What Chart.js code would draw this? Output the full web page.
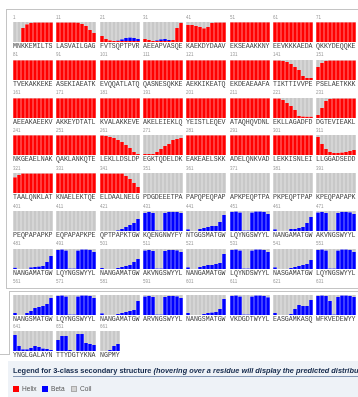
<!DOCTYPE html>
<html>
<head>
<meta charset="utf-8">
<script src="https://cdn.jsdelivr.net/npm/chart.js@4.4.1/dist/chart.umd.min.js"></script>
<style>
  body { margin: 0; width: 358px; height: 397px; overflow: hidden; background: #fff; position: relative; font-family: "Liberation Sans", Arial, sans-serif; }
  .line { position: absolute; background: #c4c4c4; }
  .cell { position: absolute; display: block; }
  .num { position: absolute; font-size: 4.5px; color: #9a9a9a; line-height: 1; will-change: transform; }
  .seq { position: absolute; font-family: "Liberation Mono", monospace; font-size: 6.6px; color: #404040; line-height: 1; white-space: nowrap; will-change: transform; }
  #legend { position: absolute; left: 8px; top: 361px; right: 0; bottom: 0; background: #eef2f7; }
  #legendTitle { position: absolute; left: 13px; top: 367px; font-size: 7.4px; font-weight: bold; color: #13284a; white-space: nowrap; line-height: 1; will-change: transform; }
  #legendRule { position: absolute; left: 13px; right: 0; top: 376px; height: 1px; background: #8497b5; }
  .sw { position: absolute; top: 386px; width: 6px; height: 6px; }
  .lt { position: absolute; top: 386px; font-size: 6.6px; color: #555; line-height: 1; will-change: transform; }
</style>
</head>
<body>
<div id="legend"></div>
<div id="legendTitle">Legend for 3-class secondary structure <i>(hovering over a residue will display the predicted distribution)</i></div>
<div id="legendRule"></div>
<div class="sw" style="left:13px;background:#ff0000"></div><div class="lt" style="left:22px">Helix</div>
<div class="sw" style="left:42px;background:#0000ff"></div><div class="lt" style="left:51px">Beta</div>
<div class="sw" style="left:71px;background:#d4d4d4;box-sizing:border-box;border:1px solid #aaa"></div><div class="lt" style="left:80px">Coil</div>
<script>
// residue number shown above each block of ten
const cellLabels = [1, 11, 21, 31, 41, 51, 61, 71, 81, 91, 101, 111, 121, 131, 141, 151,
  161, 171, 181, 191, 201, 211, 221, 231, 241, 251, 261, 271, 281, 291, 301, 311,
  321, 331, 341, 351, 361, 371, 381, 391, 401, 411, 421, 431, 441, 451, 461, 471,
  481, 491, 501, 511, 521, 531, 541, 551, 561, 571, 581, 591, 601, 611, 621, 631,
  641, 651, 661];

const sequences = ["MNKKEMILTS", "LASVAILGAG", "FVTSQPTPVR", "AEEAPVASQE", "KAEKDYDAAV", "EKSEAAKKNY", "EEVKKKAEDA", "QKKYDEQQKE",
  "TVEKAKKEKE", "ASEKIAEATK", "EVQQATLATQ", "QASNESQKKE", "AEKKIKEATQ", "EKDEAEAAFA", "TIKTTIVVPE", "PSELAETKKK",
  "AEEAKAEEKV", "AKKEYDTATL", "KVALAKKEVE", "AKELEIEKLQ", "YEISTLEQEV", "ATAQHQVDNL", "EKLLAGADFD", "DGTEVIEAKL",
  "NKGEAELNAK", "QAKLANKQTE", "LEKLLDSLDP", "EGKTQDELDK", "EAKEAELSKK", "ADELQNKVAD", "LEKKISNLEI", "LLGGADSEDD",
  "TAALQNKLAT", "KNAELEKTQE", "ELDAALNELG", "PDGDEEETPA", "PAPQPEQPAP", "APKPEQPTPA", "PKPEQPTPAP", "KPEQPAPAPK",
  "PEQPAPAPKP", "EQPAPAPKPE", "QPTPAPKTGW", "KQENGNWYFY", "NTGGSMATGW", "LQYNGSWYYL", "NANGAMATGW", "AKVNGSWYYL",
  "NANGAMATGW", "LQYNGSWYYL", "NANGAMATGW", "AKVNGSWYYL", "NANGAMATGW", "LQYNDSWYYL", "NASGAMATGW", "LQYNGSWYYL",
  "NANGSMATGW", "LQYNGSWYYL", "NANGAMATGW", "ARVNGSWYYL", "NANGSMATGW", "VKDGDTWYYL", "EASGAMKASQ", "WFKVEDEWYY",
  "YNGLGALAYN", "TTYDGTYKNA", "NGPMY"];

// predicted helix probability per residue
const helix = [
  [0, 0, .7, .88, .95, .97, .97, .97, .97, .97],
  [.97, .97, .97, .97, .97, .96, .9, .8, .6, .45],
  [.3, .15, .08, .05, .05, .05, .05, .05, .05, .05],
  [.15, .1, .05, .05, .05, .05, .05, .1, .7, .95],
  [.85, .85, .8, .75, .68, .75, .95, .97, .97, .97],
  [.98, .98, .98, .98, .98, .98, .98, .98, .98, .98],
  [.98, .98, .98, .98, .98, .98, .98, .98, .98, .98],
  [.98, .98, .98, .98, .98, .98, .98, .98, .98, .98],
  [.98, .98, .98, .98, .98, .98, .98, .98, .98, .98],
  [.98, .98, .98, .98, .98, .98, .98, .98, .98, .98],
  [.98, .98, .98, .98, .98, .98, .98, .98, .98, .98],
  [.98, .98, .98, .98, .98, .98, .98, .98, .98, .98],
  [.98, .98, .98, .98, .98, .98, .98, .98, .98, .98],
  [.98, .98, .98, .98, .98, .98, .98, .98, .98, .98],
  [.97, .97, .95, .9, .8, .65, .5, .2, .1, .1],
  [.65, .85, .95, .97, .97, .97, .97, .97, .97, .97],
  [.98, .98, .98, .98, .98, .98, .98, .98, .98, .98],
  [.98, .98, .98, .98, .98, .98, .98, .98, .98, .98],
  [.98, .98, .98, .98, .98, .98, .98, .98, .98, .98],
  [.98, .98, .98, .98, .98, .98, .98, .98, .98, .98],
  [.98, .98, .98, .98, .98, .98, .98, .98, .98, .98],
  [.98, .98, .98, .98, .98, .98, .98, .98, .98, .98],
  [.97, .97, .9, .75, .6, .4, .1, .07, .06, .06],
  [.15, .5, .85, .95, .97, .97, .97, .97, .97, .97],
  [.98, .98, .98, .98, .98, .98, .98, .98, .98, .98],
  [.98, .98, .98, .98, .98, .98, .98, .98, .98, .98],
  [.97, .95, .9, .85, .75, .65, .5, .35, .15, .05],
  [.05, .05, .05, .15, .3, .45, .55, .75, .8, .85],
  [.98, .98, .98, .98, .98, .98, .98, .98, .98, .98],
  [.98, .98, .98, .98, .98, .98, .98, .98, .98, .98],
  [.98, .98, .98, .98, .98, .98, .98, .98, .98, .98],
  [.9, .55, .3, .15, .1, .1, .12, .15, .2, .25],
  [.78, .9, .97, .97, .97, .97, .97, .97, .97, .97],
  [.98, .98, .98, .98, .98, .98, .98, .98, .98, .98],
  [.97, .97, .97, .97, .97, .97, .85, .7, .5, .3],
  [0, 0, 0, 0, 0, 0, 0, 0, 0, 0],
  [0, 0, 0, 0, 0, 0, 0, 0, 0, 0],
  [0, 0, 0, 0, 0, 0, 0, 0, 0, 0],
  [0, 0, 0, 0, 0, 0, 0, 0, 0, 0],
  [0, 0, 0, 0, 0, 0, 0, 0, 0, 0],
  [0, 0, 0, 0, 0, 0, 0, 0, 0, 0],
  [0, 0, 0, 0, 0, 0, 0, 0, 0, 0],
  [0, 0, 0, 0, 0, 0, 0, 0, 0, 0],
  [0, 0, 0, 0, 0, 0, 0, 0, 0, 0],
  [0, 0, 0, 0, 0, 0, 0, 0, 0, 0],
  [0, 0, 0, 0, 0, 0, 0, 0, 0, 0],
  [0, 0, 0, 0, 0, 0, 0, 0, 0, 0],
  [0, 0, 0, 0, 0, 0, 0, 0, 0, 0],
  [0, 0, 0, 0, 0, 0, 0, 0, 0, 0],
  [0, 0, 0, 0, 0, 0, 0, 0, 0, 0],
  [0, 0, 0, 0, 0, 0, 0, 0, 0, 0],
  [0, 0, 0, 0, 0, 0, 0, 0, 0, 0],
  [0, 0, 0, 0, 0, 0, 0, 0, 0, 0],
  [0, 0, 0, 0, 0, 0, 0, 0, 0, 0],
  [0, 0, 0, 0, 0, 0, 0, 0, 0, 0],
  [0, 0, 0, 0, 0, 0, 0, 0, 0, 0],
  [0, 0, 0, 0, 0, 0, 0, 0, 0, 0],
  [0, 0, 0, 0, 0, 0, 0, 0, 0, 0],
  [0, 0, 0, 0, 0, 0, 0, 0, 0, 0],
  [0, 0, 0, 0, 0, 0, 0, 0, 0, 0],
  [0, 0, 0, 0, 0, 0, 0, 0, 0, 0],
  [0, 0, 0, 0, 0, 0, 0, 0, 0, 0],
  [0, 0, 0, 0, 0, 0, 0, 0, 0, 0],
  [0, 0, 0, 0, 0, 0, 0, 0, 0, 0],
  [0, 0, 0, 0, 0, 0, 0, 0, 0, 0],
  [0, 0, 0, 0, 0, 0, 0, 0, 0, 0],
  [0, 0, 0, 0, 0]
];

// predicted strand (beta) probability per residue
const beta = [
  [0, 0, 0, 0, 0, 0, 0, 0, 0, 0],
  [0, 0, 0, 0, 0, 0, 0, 0, 0, 0],
  [0, 0, 0, 0, .02, .08, .15, .17, .15, .1],
  [0, 0, 0, .03, .08, .1, .05, 0, 0, 0],
  [0, 0, 0, 0, 0, 0, 0, 0, 0, 0],
  [0, 0, 0, 0, 0, 0, 0, 0, 0, 0],
  [0, 0, 0, 0, 0, 0, 0, 0, 0, 0],
  [0, 0, 0, 0, 0, 0, 0, 0, 0, 0],
  [0, 0, 0, 0, 0, 0, 0, 0, 0, 0],
  [0, 0, 0, 0, 0, 0, 0, 0, 0, 0],
  [0, 0, 0, 0, 0, 0, 0, 0, 0, 0],
  [0, 0, 0, 0, 0, 0, 0, 0, 0, 0],
  [0, 0, 0, 0, 0, 0, 0, 0, 0, 0],
  [0, 0, 0, 0, 0, 0, 0, 0, 0, 0],
  [0, 0, 0, 0, 0, 0, 0, 0, 0, 0],
  [0, 0, 0, 0, 0, 0, 0, 0, 0, 0],
  [0, 0, 0, 0, 0, 0, 0, 0, 0, 0],
  [0, 0, 0, 0, 0, 0, 0, 0, 0, 0],
  [0, 0, 0, 0, 0, 0, 0, 0, 0, 0],
  [0, 0, 0, 0, 0, 0, 0, 0, 0, 0],
  [0, 0, 0, 0, 0, 0, 0, 0, 0, 0],
  [0, 0, 0, 0, 0, 0, 0, 0, 0, 0],
  [0, 0, 0, 0, 0, 0, 0, 0, 0, 0],
  [0, 0, 0, 0, 0, 0, 0, 0, 0, 0],
  [0, 0, 0, 0, 0, 0, 0, 0, 0, 0],
  [0, 0, 0, 0, 0, 0, 0, 0, 0, 0],
  [0, 0, 0, 0, 0, 0, 0, 0, 0, 0],
  [0, 0, 0, 0, 0, 0, 0, 0, 0, 0],
  [0, 0, 0, 0, 0, 0, 0, 0, 0, 0],
  [0, 0, 0, 0, 0, 0, 0, 0, 0, 0],
  [0, 0, 0, 0, 0, 0, 0, 0, 0, 0],
  [0, 0, 0, 0, 0, 0, 0, 0, 0, 0],
  [0, 0, 0, 0, 0, 0, 0, 0, 0, 0],
  [0, 0, 0, 0, 0, 0, 0, 0, 0, 0],
  [0, 0, 0, 0, 0, 0, 0, 0, 0, 0],
  [0, 0, 0, 0, 0, 0, 0, 0, 0, 0],
  [0, 0, 0, 0, 0, 0, 0, 0, 0, 0],
  [0, 0, 0, 0, 0, 0, 0, 0, 0, 0],
  [0, 0, 0, 0, 0, 0, 0, 0, 0, 0],
  [0, 0, 0, 0, 0, 0, 0, 0, 0, 0],
  [0, 0, 0, 0, 0, 0, 0, 0, 0, 0],
  [0, 0, 0, 0, 0, 0, 0, 0, 0, 0],
  [0, 0, 0, 0, .03, .1, .2, .3, .4, .6],
  [.9, .95, .9, .03, .02, .9, .95, .95, .95, .9],
  [.08, 0, 0, .1, .15, .2, .25, .25, .45, .8],
  [.95, .97, .92, .02, .02, .92, .97, .97, .95, .85],
  [.08, 0, 0, 0, .1, .1, .15, .2, .4, .7],
  [.92, .95, .9, .02, .02, .9, .95, .95, .93, .85],
  [.06, 0, 0, 0, .08, .1, .12, .15, .35, .65],
  [.95, .97, .92, .02, .02, .92, .97, .97, .95, .85],
  [.05, 0, 0, 0, .05, .1, .15, .2, .35, .5],
  [.92, .95, .9, .02, .02, .9, .95, .95, .93, .85],
  [.08, 0, 0, .1, .15, .2, .2, .25, .3, .75],
  [.95, .97, .92, .02, .02, .92, .97, .97, .95, .85],
  [.08, 0, 0, 0, .05, .1, .15, .2, .25, .45],
  [.95, .97, .92, .02, .02, .92, .97, .97, .95, .85],
  [.1, 0, 0, .1, .2, .35, .4, .45, .55, .85],
  [.95, .97, .92, .02, .02, .92, .97, .97, .95, .85],
  [.08, 0, 0, 0, .05, .1, .15, .2, .25, .7],
  [.92, .95, .9, .02, .02, .9, .95, .95, .93, .85],
  [.1, 0, 0, 0, .05, .1, .12, .15, .3, .8],
  [.95, .97, .92, .02, .02, .92, .97, .97, .95, .88],
  [.1, 0, 0, 0, .05, .3, .5, .45, .45, .75],
  [.95, .97, .95, .7, .02, .9, .97, .97, .95, .9],
  [.8, .25, .08, .08, .15, .25, .2, .12, .1, .05],
  [.55, .75, .75, .05, 0, .85, .85, .4, .35, .3],
  [0, 0, .05, .25, .35]
];

const COLORS = { helix: '#ff0000', beta: '#0000ff', coil: '#c8c8c8' };
const COL_X0 = 13, COL_PITCH = 43.3, BAR_W = 4, CHART_H = 20;

function addLine(x, y, w, h) {
  const d = document.createElement('div');
  d.className = 'line';
  Object.assign(d.style, { left: x + 'px', top: y + 'px', width: w + 'px', height: h + 'px' });
  document.body.appendChild(d);
}

function addText(cls, txt, x, y) {
  const d = document.createElement('div');
  d.className = cls;
  d.textContent = txt;
  d.style.left = x + 'px';
  d.style.top = y + 'px';
  document.body.appendChild(d);
}

// panel outlines (two overlapping result panels)
addLine(6, 9, 352, 1);
addLine(6, 9, 1, 279);
addLine(6, 288, 352, 1);
addLine(9, 291, 349, 1);
addLine(9, 291, 1, 64);
addLine(0, 354, 10, 1);

function chartTop(row) {
  if (row <= 6) return 22 + 37.8 * row;
  if (row === 7) return 295;
  return 331;
}

function labelTop(row) {
  if (row <= 7) return 22 + 37.8 * row - 6.5;
  return 324.5;
}

function drawCell(i) {
  const row = Math.floor(i / 8), col = i % 8;
  const x = COL_X0 + COL_PITCH * col;
  const y = chartTop(row);
  const residues = sequences[i].split('');
  const h = helix[i], b = beta[i];
  const coil = h.map((v, k) => Math.max(0, 1 - v - b[k]));

  addText('num', String(cellLabels[i]), x, labelTop(row));
  addText('seq', sequences[i], x, y + CHART_H + 2);

  const canvas = document.createElement('canvas');
  canvas.className = 'cell';
  canvas.width = residues.length * BAR_W;
  canvas.height = CHART_H;
  canvas.style.left = x + 'px';
  canvas.style.top = y + 'px';
  document.body.appendChild(canvas);

  new Chart(canvas, {
    type: 'bar',
    data: {
      labels: residues,
      datasets: [
        { label: 'Helix', data: h, backgroundColor: COLORS.helix },
        { label: 'Beta', data: b, backgroundColor: COLORS.beta },
        { label: 'Coil', data: coil, backgroundColor: COLORS.coil }
      ]
    },
    options: {
      responsive: false,
      animation: false,
      events: [],
      layout: { padding: 0 },
      datasets: { bar: { categoryPercentage: 0.88, barPercentage: 1, borderWidth: 0 } },
      plugins: { legend: { display: false }, tooltip: { enabled: false } },
      scales: {
        x: { display: false, stacked: true },
        y: { display: false, stacked: true, min: 0, max: 1 }
      }
    }
  });
}

for (let i = 0; i < sequences.length; i++) drawCell(i);
</script>
</body>
</html>
